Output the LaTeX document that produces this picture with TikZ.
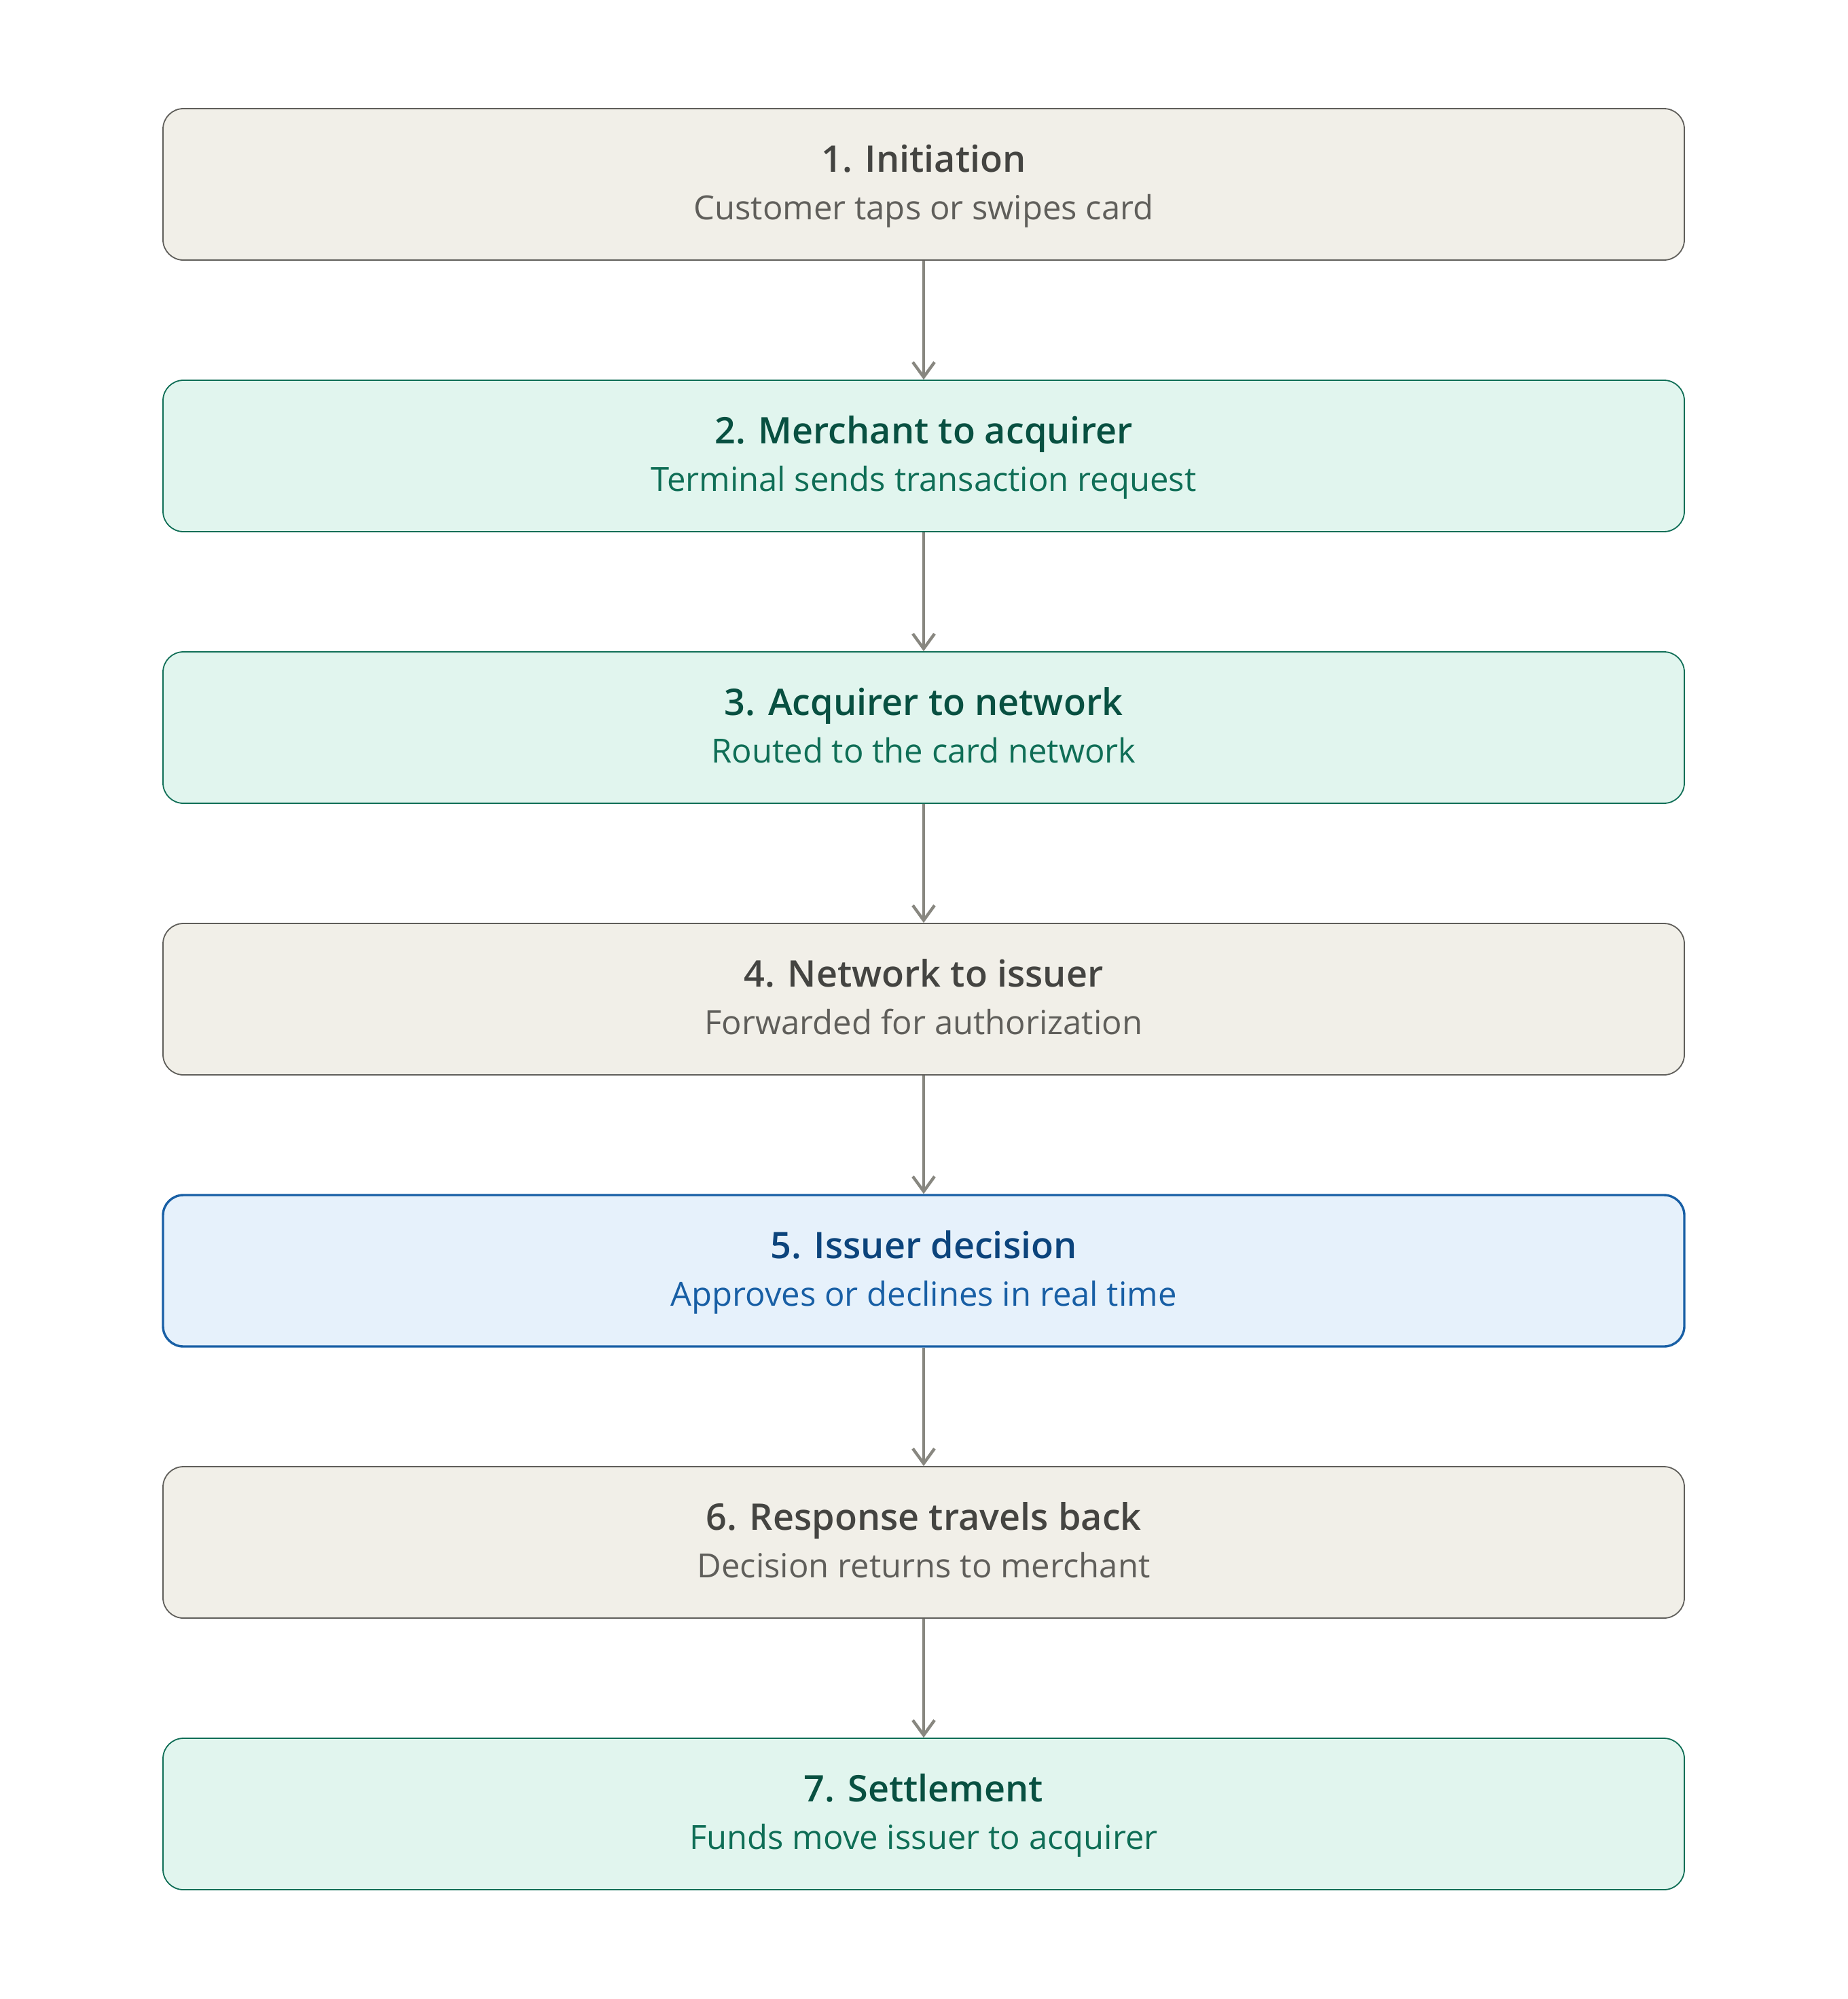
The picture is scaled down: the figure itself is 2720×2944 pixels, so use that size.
\documentclass[tikz,border=0pt]{standalone}
\usepackage{fontspec}
\setmainfont{Open Sans}[BoldFont={Open Sans Semibold}]
\usepackage{xcolor}
\usetikzlibrary{arrows.meta}

\definecolor{greyfill}{HTML}{F1EFE8}
\definecolor{greyline}{HTML}{5F5E5A}
\definecolor{greytitle}{HTML}{444441}
\definecolor{greysub}{HTML}{5F5E5A}
\definecolor{greenfill}{HTML}{E1F5EE}
\definecolor{greenline}{HTML}{0F6E56}
\definecolor{greentitle}{HTML}{085041}
\definecolor{greensub}{HTML}{0F6E56}
\definecolor{bluefill}{HTML}{E6F1FB}
\definecolor{blueline}{HTML}{185FA5}
\definecolor{bluetitle}{HTML}{0C447C}
\definecolor{bluesub}{HTML}{185FA5}
\definecolor{flowgrey}{HTML}{888780}

\newcommand*{\stage}[3]{%
  {\color{#1title}\fontsize{13.5}{17.5}\selectfont\bfseries\rule{0pt}{11.25pt}#2}\\
  {\color{#1sub}\rule[-3pt]{0pt}{3pt}#3}}

\tikzset{
  stagebox/.style={rectangle, rounded corners=7.5pt, minimum width=560pt,
    minimum height=55.75pt, inner sep=0pt, align=center,
    font=\fontsize{12.25}{17.5}\selectfont, line width=0.45pt},
  greybox/.style={stagebox, fill=greyfill, draw=greyline},
  greenbox/.style={stagebox, fill=greenfill, draw=greenline},
  bluebox/.style={stagebox, fill=bluefill, draw=blueline, line width=0.85pt},
  flow/.style={draw=flowgrey, line width=1.1pt, -{Straight Barb[length=5.5pt, width=8pt]}}
}

\begin{document}
\begin{tikzpicture}[x=0.25pt, y=-0.25pt]
  \useasboundingbox (0,0) rectangle (2720,2944);

  \node[greybox]  (s1) at (1360, 271.5) {\stage{grey}{1. Initiation}{Customer taps or swipes card}};
  \node[greenbox] (s2) at (1360, 671.5) {\stage{green}{2. Merchant to acquirer}{Terminal sends transaction request}};
  \node[greenbox] (s3) at (1360,1071.5) {\stage{green}{3. Acquirer to network}{Routed to the card network}};
  \node[greybox]  (s4) at (1360,1471.5) {\stage{grey}{4. Network to issuer}{Forwarded for authorization}};
  \node[bluebox]  (s5) at (1360,1871.5) {\stage{blue}{5. Issuer decision}{Approves or declines in real time}};
  \node[greybox]  (s6) at (1360,2271.5) {\stage{grey}{6. Response travels back}{Decision returns to merchant}};
  \node[greenbox] (s7) at (1360,2671.5) {\stage{green}{7. Settlement}{Funds move issuer to acquirer}};

  \foreach \i/\j in {1/2, 2/3, 3/4, 4/5, 5/6, 6/7}
  {
    \draw[flow] (s\i) -- (s\j);
  }
\end{tikzpicture}
\end{document}
